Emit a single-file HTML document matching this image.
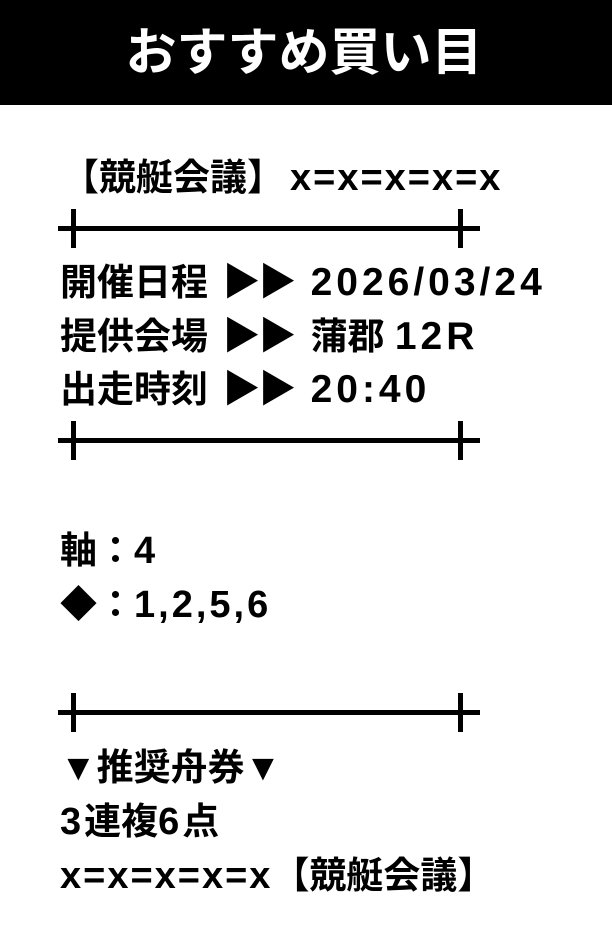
<!DOCTYPE html>
<html><head><meta charset="utf-8"><style>
body{margin:0;width:612px;height:936px;background:#fff;position:relative;overflow:hidden;font-family:"Liberation Sans","Noto Sans CJK JP",sans-serif;font-weight:bold;color:#000}
.hd{position:absolute;left:0;top:0;width:612px;height:105px;background:#000;color:#fff;font-size:51px;text-align:center;line-height:105px;padding-right:4px;box-sizing:border-box}
.t{position:absolute;left:60px;font-size:37px;line-height:54px;white-space:nowrap}
.l{font-size:38px;letter-spacing:3px}
.d{font-size:39px;letter-spacing:4px}
.tr{font-size:38px;letter-spacing:-2px;margin:0 16px 0 6px}
.sep{position:absolute;left:58px;width:422px;height:5px;background:#000}
.sep:before,.sep:after{content:"";position:absolute;top:-17px;width:5px;height:39px;background:#000}
.sep:before{left:13px}.sep:after{left:400px}
</style></head><body>
<div class="hd">おすすめ買い目</div>
<div class="t" style="top:151px;left:62px">【競艇会議】<span class="l" style="letter-spacing:2px;margin-left:6px">x=x=x=x=x</span></div>
<div class="sep" style="top:226px"></div>
<div class="t" style="top:256px">開催日程<span class="tr"> ▶▶</span><span class="d">2026/03/24</span></div>
<div class="t" style="top:310px">提供会場<span class="tr"> ▶▶</span>蒲郡 <span class="d">12R</span></div>
<div class="t" style="top:363px">出走時刻<span class="tr"> ▶▶</span><span class="d">20:40</span></div>
<div class="sep" style="top:438px"></div>
<div class="t" style="top:524px">軸：<span class="l">4</span></div>
<div class="t" style="top:578px">◆：<span class="l">1,2,5,6</span></div>
<div class="sep" style="top:710px"></div>
<div class="t" style="top:741px">▼推奨舟券▼</div>
<div class="t" style="top:795px"><span class="l">3</span>連複<span class="l">6</span>点</div>
<div class="t" style="top:849px"><span class="l" style="letter-spacing:2px">x=x=x=x=x</span>【競艇会議】</div>
</body></html>
